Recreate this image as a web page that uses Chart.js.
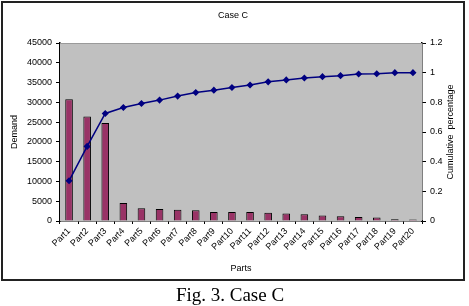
<!DOCTYPE html>
<html><head><meta charset="utf-8">
<script src="https://cdn.jsdelivr.net/npm/chart.js@4"></script>
<style>
body{margin:0;background:#fff;width:469px;height:306px;overflow:hidden}
#wrap{position:absolute;left:0;top:0;width:469px;height:285px}
#frame{position:absolute;left:1px;top:1px;width:460px;height:276px;border:2px solid #222;pointer-events:none}
#cap{position:absolute;left:0;top:284px;width:460px;text-align:center;font:19px/22px "Liberation Serif","Times New Roman",serif;color:#000}
</style></head>
<body>
<div id="wrap"><canvas id="c" width="469" height="285"></canvas></div>
<div id="frame"></div>
<div id="cap">Fig. 3. Case C</div>
<script>
const parts=['Part1','Part2','Part3','Part4','Part5','Part6','Part7','Part8','Part9','Part10',
  'Part11','Part12','Part13','Part14','Part15','Part16','Part17','Part18','Part19','Part20'];
const demand=[30800,26400,24800,4570,3230,3050,2870,2710,2290,2290,
  2300,2100,1900,1700,1370,1200,1000,860,430,350];
const cumulative=[0.271,0.503,0.725,0.765,0.792,0.815,0.842,0.866,0.882,0.900,
  0.917,0.938,0.951,0.964,0.973,0.980,0.991,0.993,1.0,1.0];
const demandTicks=[0,45000,5000];
const pctTicks=[0,1.2,0.2];

const FONT='"Liberation Sans",Arial,sans-serif';
Chart.defaults.font.family=FONT;
Chart.defaults.color='#000';

const deco={
  id:'deco',
  beforeDatasetsDraw(chart){
    const a=chart.chartArea,ctx=chart.ctx;
    ctx.save();
    ctx.fillStyle='#c0c0c0';
    ctx.fillRect(a.left,a.top,a.right-a.left,a.bottom-a.top);
    ctx.strokeStyle='#9a9a9a';ctx.lineWidth=1;
    ctx.beginPath();ctx.moveTo(a.left,a.top+0.5);ctx.lineTo(a.right,a.top+0.5);ctx.stroke();
    ctx.restore();
  },
  afterDraw(chart){
    const ctx=chart.ctx,a=chart.chartArea;
    ctx.save();
    ctx.fillStyle='#000';
    ctx.font='9px '+FONT;
    ctx.textAlign='center';ctx.textBaseline='middle';
    ctx.fillText('Case C',233,16);
    ctx.translate(15,(a.top+a.bottom)/2);
    ctx.rotate(-Math.PI/2);
    ctx.fillText('Demand',0,0);
    ctx.restore();
    ctx.save();
    ctx.font='9px '+FONT;ctx.fillStyle='#000';
    ctx.textAlign='center';ctx.textBaseline='middle';
    ctx.translate(451,(a.top+a.bottom)/2);
    ctx.rotate(-Math.PI/2);
    ctx.fillText('Cumulative  percentage',0,0);
    ctx.restore();
  }
};

new Chart(document.getElementById('c'),{
  data:{
    labels:parts,
    datasets:[
      {type:'line',label:'Cumulative',data:cumulative,yAxisID:'y1',
       borderColor:'#000080',backgroundColor:'#000080',borderWidth:1.5,
       pointStyle:'rectRot',pointRadius:2.5,tension:0,order:0},
      {type:'bar',label:'Demand',data:demand,yAxisID:'y',
       backgroundColor:'#993366',borderColor:'#000',borderWidth:1,
       barPercentage:0.42,categoryPercentage:1,order:1}
    ]
  },
  options:{
    responsive:false,animation:false,
    layout:{padding:{top:43,left:0,right:0,bottom:0}},
    plugins:{legend:{display:false},tooltip:{enabled:false},title:{display:false}},
    scales:{
      x:{
        grid:{offset:true,drawOnChartArea:false,color:'#000',tickLength:3,tickColor:'#000'},
        border:{color:'#000',width:1.5},
        ticks:{font:{size:9},maxRotation:45,minRotation:45,padding:2,autoSkip:false},
        title:{display:true,text:'Parts',font:{size:9},padding:{top:0,bottom:11}},
        afterFit(s){s.height=64;}
      },
      y:{
        position:'left',min:demandTicks[0],max:demandTicks[1],
        grid:{drawOnChartArea:false,color:'#000',tickLength:4},
        border:{color:'#000',width:1.5},
        ticks:{stepSize:demandTicks[2],font:{size:9},padding:4,callback:v=>String(v)},
        afterFit(s){s.width=60;}
      },
      y1:{
        position:'right',min:pctTicks[0],max:pctTicks[1],
        grid:{drawOnChartArea:false,color:'#000',tickLength:4},
        border:{color:'#000',width:1.5},
        ticks:{stepSize:pctTicks[2],font:{size:9},padding:4,callback:v=>String(parseFloat(v.toFixed(1)))},
        afterFit(s){s.width=47;}
      }
    }
  },
  plugins:[deco]
});
</script>
</body></html>
